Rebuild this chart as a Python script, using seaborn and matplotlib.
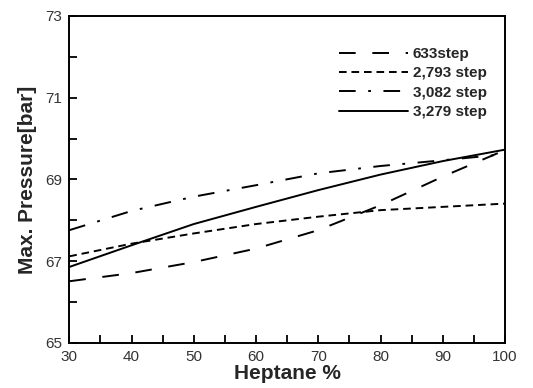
import matplotlib
matplotlib.use("Agg")
import matplotlib.pyplot as plt
import seaborn as sns
import pandas as pd

heptane = [30, 40, 50, 60, 70, 80, 90, 100]
p_633 = [66.51, 66.71, 66.98, 67.31, 67.76, 68.37, 69.07, 69.72]
p_2793 = [67.12, 67.43, 67.68, 67.91, 68.09, 68.25, 68.33, 68.41]
p_3082 = [67.76, 68.23, 68.58, 68.86, 69.15, 69.33, 69.47, 69.62]
p_3279 = [66.86, 67.39, 67.91, 68.33, 68.74, 69.12, 69.45, 69.73]
series_names = ["633step", "2,793 step", "3,082 step", "3,279 step"]

rows = []
for name, vals in zip(series_names, [p_633, p_2793, p_3082, p_3279]):
    for x, y in zip(heptane, vals):
        rows.append({"Heptane": x, "Pressure": y, "Mechanism": name})
df = pd.DataFrame(rows)

sns.set_theme(style="white")
plt.rcParams["font.family"] = ["Liberation Sans", "DejaVu Sans"]
plt.rcParams["lines.scale_dashes"] = False

fig = plt.figure(figsize=(5.33, 3.88), dpi=100)
ax = fig.add_axes([0.130, 0.116, 0.8175, 0.8428])

dashes = {
    "633step": (12, 12),
    "2,793 step": (5.5, 3.5),
    "3,082 step": (12, 9, 2, 9),
    "3,279 step": "",
}
sns.lineplot(data=df, x="Heptane", y="Pressure", hue="Mechanism", style="Mechanism",
             palette=["black"] * 4, dashes=dashes, linewidth=1.4, ax=ax,
             hue_order=series_names, style_order=series_names)

ax.set_xlim(30, 100)
ax.set_ylim(65, 73)
ax.set_xticks(range(30, 101, 10))
ax.set_xticks(range(35, 100, 10), minor=True)
ax.set_yticks([65, 67, 69, 71, 73])
ax.set_yticks([66, 68, 70, 72], minor=True)
ax.tick_params(which="both", direction="in", length=6, width=1.3, color="black",
               labelsize=11, labelcolor="#333333", top=False, right=False,
               bottom=True, left=True, pad=5)
for s in ax.spines.values():
    s.set_color("black")
    s.set_linewidth(1.4)

ax.set_xlabel("Heptane %", fontsize=15, fontweight="bold", labelpad=0)
ax.set_ylabel("Max. Pressure[bar]", fontsize=15, fontweight="bold", labelpad=6)

leg = ax.legend(loc="upper right", bbox_to_anchor=(0.99, 0.947), frameon=False,
                handlelength=4.5, handletextpad=0.35, labelspacing=0.35,
                prop={"weight": "bold", "size": 11})
for line in leg.get_lines():
    line.set_linewidth(1.4)

fig.savefig("out.png", dpi=100)
